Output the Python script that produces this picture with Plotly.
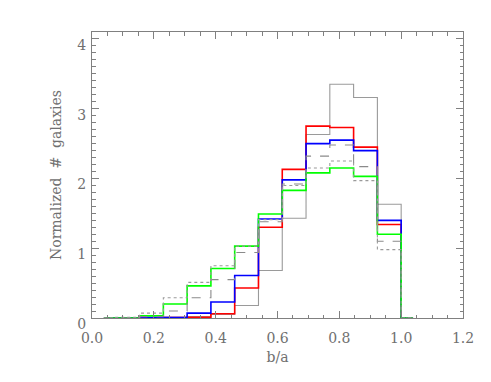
import numpy as np
import plotly.graph_objects as go

# Histogram: 14 bins of width 1/13 in b/a, values at bin centres
n_bins = 14
bin_width = 1.0 / 13
bin_centers = [(k + 0.5) * bin_width for k in range(n_bins)]

gray_solid = [0, 0, 0, 0.01, 0.02, 0.05, 0.18, 0.68, 1.43, 2.63, 3.35, 3.16, 1.63, 0]
red_vals = [0, 0, 0, 0.005, 0.01, 0.06, 0.43, 1.30, 2.13, 2.75, 2.73, 2.45, 1.34, 0]
blue_vals = [0, 0, 0.005, 0.005, 0.07, 0.23, 0.61, 1.42, 1.98, 2.50, 2.55, 2.40, 1.40, 0]
green_vals = [0, 0, 0.03, 0.20, 0.46, 0.71, 1.03, 1.49, 1.83, 2.08, 2.15, 2.03, 1.20, 0]
gray_dashed = [0, 0, 0.02, 0.10, 0.29, 0.55, 0.94, 1.38, 1.92, 2.32, 2.48, 2.17, 1.10, 0]
gray_dotted = [0, 0.01, 0.07, 0.29, 0.51, 0.75, 1.03, 1.41, 1.90, 2.15, 2.25, 1.97, 0.98, 0]

x_ticks = [0.0, 0.2, 0.4, 0.6, 0.8, 1.0, 1.2]
x_tick_labels = ["0.0", "0.2", "0.4", "0.6", "0.8", "1.0", "1.2"]
y_ticks = [0, 1, 2, 3, 4]
y_tick_labels = ["0", "1", "2", "3", "4"]

series = [
    ("solid", gray_solid, "#9a9a9a", 1.1, "solid"),
    ("red", red_vals, "#ff0000", 1.6, "solid"),
    ("blue", blue_vals, "#0000ff", 1.6, "solid"),
    ("green", green_vals, "#00ff00", 1.6, "solid"),
    ("dashed", gray_dashed, "#8a8a8a", 1.1, "dash"),
    ("dotted", gray_dotted, "#9a9a9a", 1.1, "dot"),
]

fig = go.Figure()
for name, vals, color, width, dash in series:
    fig.add_trace(go.Scatter(
        x=bin_centers, y=vals, mode="lines", name=name,
        line=dict(shape="hvh", color=color, width=width, dash=dash),
        showlegend=False, hoverinfo="skip",
    ))

axis_color = "#808080"
font_family = "DejaVu Serif"

fig.update_layout(
    width=491, height=382,
    margin=dict(l=84, r=36, t=24, b=72, autoexpand=False),
    paper_bgcolor="white", plot_bgcolor="white",
    font=dict(family=font_family, size=14, color="#707070"),
)
fig.update_xaxes(
    range=[0, 1.2], tickvals=x_ticks, ticktext=x_tick_labels, automargin=False,
    showgrid=False, zeroline=False, showline=True, linecolor=axis_color, linewidth=1,
    mirror="allticks", ticks="inside", ticklen=7, tickcolor=axis_color,
    minor=dict(dtick=0.05, ticks="inside", ticklen=3.5, tickcolor=axis_color, showgrid=False),
    title=dict(text="b/a", standoff=7, font=dict(size=14)),
    tickfont=dict(size=14), ticklabelstandoff=7,
)
fig.update_yaxes(
    range=[0, 4.1], tickvals=y_ticks, ticktext=y_tick_labels, automargin=False,
    showgrid=False, zeroline=False, showline=True, linecolor=axis_color, linewidth=1,
    mirror="allticks", ticks="inside", ticklen=7, tickcolor=axis_color,
    minor=dict(dtick=0.1, ticks="inside", ticklen=3.5, tickcolor=axis_color, showgrid=False),
    title=dict(text="Normalized  #  galaxies", standoff=12, font=dict(size=14)),
    tickfont=dict(size=14), ticklabelshift=6, ticklabelstandoff=2,
)

fig.write_html("out.html")
